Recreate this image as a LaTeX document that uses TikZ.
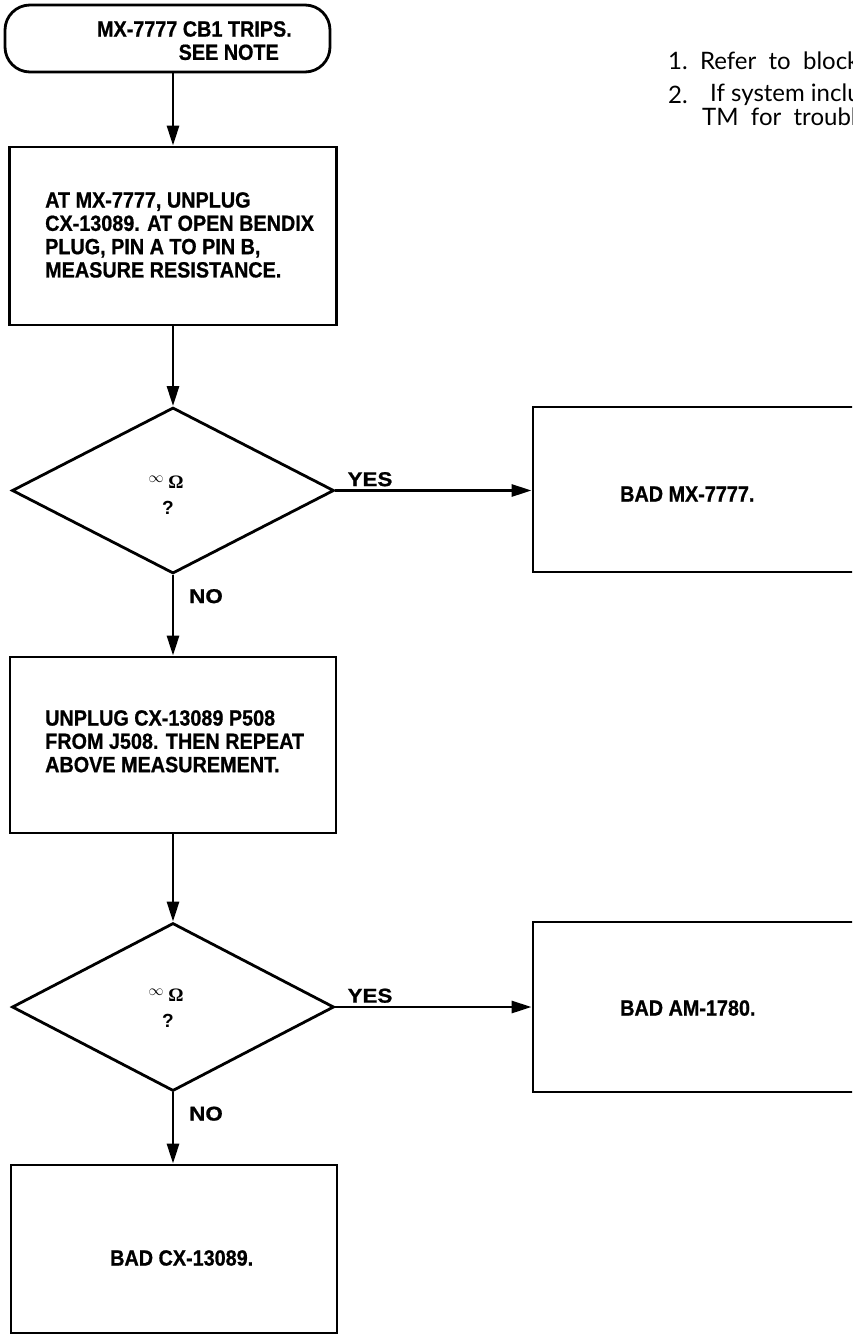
\documentclass[tikz,border=0pt]{standalone}
\usepackage{fontspec}
\setmainfont{Liberation Sans}
\newfontfamily\labfont{Liberation Sans}[FakeStretch=0.9,FakeBold=0.8]
\newfontfamily\ynfont{Liberation Sans}[FakeStretch=1.12,FakeBold=0.8]
\newfontfamily\notefont{Lato}
\newfontfamily\omfont{Liberation Serif}
\usetikzlibrary{arrows.meta,shapes.geometric}
\begin{document}
\begin{tikzpicture}[x=1pt,y=-1pt,
  flow/.style={line width=2.8pt,-{Triangle[length=20pt,width=12pt]}},
  boxst/.style={draw,line width=2.8pt,rectangle,inner sep=0pt},
  termst/.style={draw,line width=2.8pt,rectangle,rounded corners=25pt,inner sep=0pt,minimum width=325pt,minimum height=67pt},
  dia/.style={draw,line width=2.8pt,diamond,inner sep=0pt,minimum width=322pt,minimum height=166pt},
  lab/.style={font=\labfont\bfseries\fontsize{22}{23.3}\selectfont,inner sep=0pt},
  yn/.style={font=\ynfont\bfseries\fontsize{20}{22}\selectfont,inner sep=0pt},
  sym/.style={inner sep=0pt},
  om/.style={inner sep=0pt,font=\omfont\bfseries\fontsize{19}{19}\selectfont},
  qm/.style={inner sep=0pt,font=\bfseries\fontsize{19}{19}\selectfont},
  note/.style={font=\notefont\fontsize{24}{26}\selectfont,inner sep=0pt,anchor=west}]
\useasboundingbox (0,0) rectangle (852,1335);
\clip (0,0) rectangle (852,1335);

% start terminal
\node[termst] (start) at (167.5,38.5) {};
\node[lab,anchor=north east,align=right] (startt) at (292,21) {MX-7777 CB1 TRIPS.\\SEE NOTE\hspace*{13pt}};

% box 1
\node[boxst,minimum width=327pt,minimum height=178pt] (b1) at (173,236) {};
\node[lab,anchor=north west,align=left] (b1t) at (45,192) {AT MX-7777, UNPLUG\\CX-13089. AT OPEN BENDIX\\PLUG, PIN A TO PIN B,\\MEASURE RESISTANCE.};

% decision 1
\node[dia] (d1) at (173,490.5) {};
\node[sym] (d1i) at (156,479) {\scalebox{1.5}{$\infty$}};
\node[om] (d1o) at (176,482) {Ω};
\node[qm] (d1b) at (168,508) {?};
\node[yn,anchor=south west] (y1) at ([xshift=12pt,yshift=4pt]d1.east) {YES};

% bad MX
\node[boxst,minimum width=330pt,minimum height=165pt] (bmx) at (698,489.5) {};
\node[lab,anchor=west] (bmxt) at (620,494) {BAD MX-7777.};

\node[yn,anchor=north west] (n1) at ([xshift=16pt,yshift=-14pt]d1.south) {NO};

% box 2
\node[boxst,minimum width=326pt,minimum height=176pt] (b2) at (173,745) {};
\node[lab,anchor=north west,align=left] (b2t) at (45,710) {UNPLUG CX-13089 P508\\FROM J508. THEN REPEAT\\ABOVE MEASUREMENT.};

% decision 2
\node[dia,minimum height=168pt] (d2) at (173,1007) {};
\node[sym] (d2i) at (156,992) {\scalebox{1.5}{$\infty$}};
\node[om] (d2o) at (176,995) {Ω};
\node[qm] (d2b) at (168,1021) {?};
\node[yn,anchor=south west] (y2) at ([xshift=12pt,yshift=4pt]d2.east) {YES};

% bad AM
\node[boxst,minimum width=330pt,minimum height=170pt] (bam) at (698,1007) {};
\node[lab,anchor=west] (bamt) at (620,1008) {BAD AM-1780.};

\node[yn,anchor=north west] (n2) at ([xshift=16pt,yshift=-14pt]d2.south) {NO};

% bad CX
\node[boxst,minimum width=326pt,minimum height=168pt] (bcx) at (174,1249) {};
\node[lab,anchor=west] (bcxt) at (110,1258) {BAD CX-13089.};

% notes
\node[note] (nt1) at (668,61) {1.\ \ Refer\ \ to\ \ block};
\node[note] (nt2) at (668,95) {2.};
\node[note] (nt2b) at (710,95) {If system includes};
\node[note] (nt3) at (702,119) {TM\ \ for\ \ troubleshooting};

% connectors
\draw[flow] (b1.north |- start.south) -- (b1.north);
\draw[flow] (b1.south) -- (d1.north);
\draw[flow] (d1.east) -- (d1.east -| bmx.west);
\draw[flow] (d1.south) -- (b2.north);
\draw[flow] (b2.south) -- (d2.north);
\draw[flow] (d2.east) -- (d2.east -| bam.west);
\draw[flow] (d2.south) -- (d2.south |- bcx.north);
\end{tikzpicture}
\end{document}
